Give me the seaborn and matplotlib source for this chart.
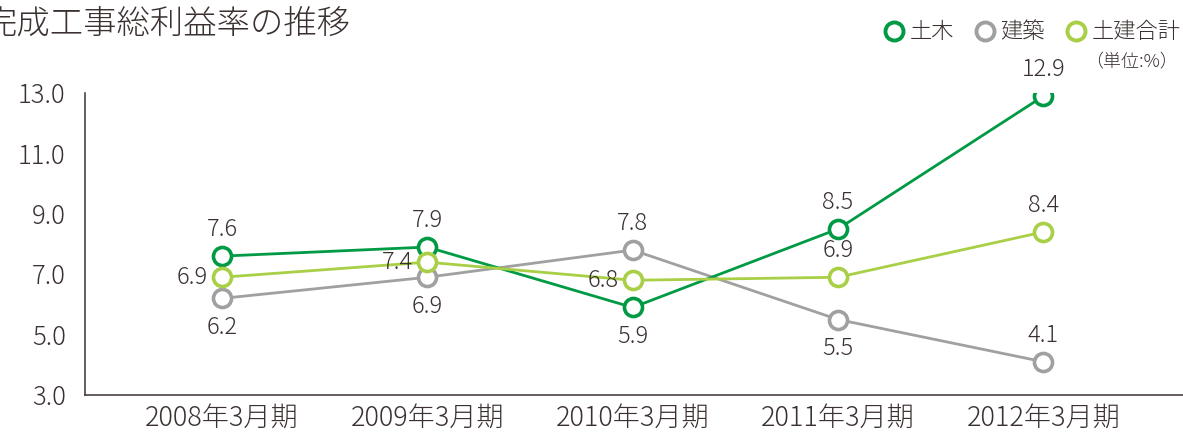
import pandas as pd
import matplotlib
matplotlib.use("Agg")
import matplotlib.pyplot as plt
from matplotlib.lines import Line2D
import seaborn as sns

# data
periods = ["2008年3月期", "2009年3月期", "2010年3月期", "2011年3月期", "2012年3月期"]
doboku = [7.6, 7.9, 5.9, 8.5, 12.9]
kenchiku = [6.2, 6.9, 7.8, 5.5, 4.1]
goukei = [6.9, 7.4, 6.8, 6.9, 8.4]
series_names = ["建築", "土木", "土建合計"]
colors = {"土木": "#009a44", "建築": "#a0a0a0", "土建合計": "#a8cf45"}

# where each value label sits relative to its point
label_pos = {
    "土木": ["above", "above", "below", "above", "above"],
    "建築": ["below", "below", "above", "below", "above"],
    "土建合計": ["left", "left", "left", "above", "above"],
}

df = pd.DataFrame({
    "period": periods * 3,
    "series": ["土木"] * 5 + ["建築"] * 5 + ["土建合計"] * 5,
    "value": doboku + kenchiku + goukei,
})

sns.set_style("white")
plt.rcParams["font.family"] = ["Noto Sans CJK JP", "DejaVu Sans"]
plt.rcParams["font.weight"] = "light"
text_color = "#3a3130"

fig = plt.figure(figsize=(11.83, 4.33), dpi=100)
ax = fig.add_axes([0.0719, 0.0878, 0.9281, 0.6972])

sns.lineplot(
    data=df, x="period", y="value", hue="series", hue_order=series_names,
    palette=colors, marker="o", markersize=13, linewidth=2, legend=False,
    sort=False, ax=ax,
)

for line, name in zip(ax.lines, series_names):
    line.set_markerfacecolor("white")
    line.set_markeredgecolor(colors[name])
    line.set_markeredgewidth(2.6)

# value labels
offsets = {"above": (0, 10, "center", "bottom"),
           "below": (0, -12, "center", "top"),
           "left": (-10, 0, "right", "center")}
for name, vals in [("土木", doboku), ("建築", kenchiku), ("土建合計", goukei)]:
    for i, v in enumerate(vals):
        dx, dy, ha, va = offsets[label_pos[name][i]]
        ax.annotate(f"{v:.1f}", (i, v), xytext=(dx, dy), textcoords="offset points",
                    ha=ha, va=va, fontsize=17, color=text_color)

ax.set_ylim(3, 13)
ax.set_xlim(-0.667, 4.68)
ax.set_yticks([3, 5, 7, 9, 11, 13])
ax.set_yticklabels(["3.0", "5.0", "7.0", "9.0", "11.0", "13.0"])
ax.tick_params(axis="y", length=0, labelsize=18.5, colors=text_color, pad=14)
ax.tick_params(axis="x", length=0, labelsize=19.5, colors=text_color, pad=6)
ax.set_xlabel("")
ax.set_ylabel("")
sns.despine(ax=ax)
for s in ["left", "bottom"]:
    ax.spines[s].set_color(text_color)
    ax.spines[s].set_linewidth(1.1)

# legend
handles = [Line2D([], [], linestyle="none", marker="o", markersize=13,
                  markerfacecolor="white", markeredgecolor=colors[n],
                  markeredgewidth=2.8) for n in ["土木", "建築", "土建合計"]]
fig.legend(handles, ["土木", "建築", "土建合計"], loc="center right",
           bbox_to_anchor=(0.998, 0.925), ncol=3, frameon=False, fontsize=16,
           handletextpad=0.1, columnspacing=0.8, borderpad=0, borderaxespad=0,
           handlelength=1.2, labelcolor=text_color)
fig.text(0.996, 0.857, "（単位:%）", ha="right", va="center", fontsize=13, color=text_color)

# title (cut off at the left edge as in the original)
fig.text(-0.014, 0.945, "完成工事総利益率の推移", ha="left", va="center",
         fontsize=24, color=text_color)

fig.savefig("out.png", dpi=100)
